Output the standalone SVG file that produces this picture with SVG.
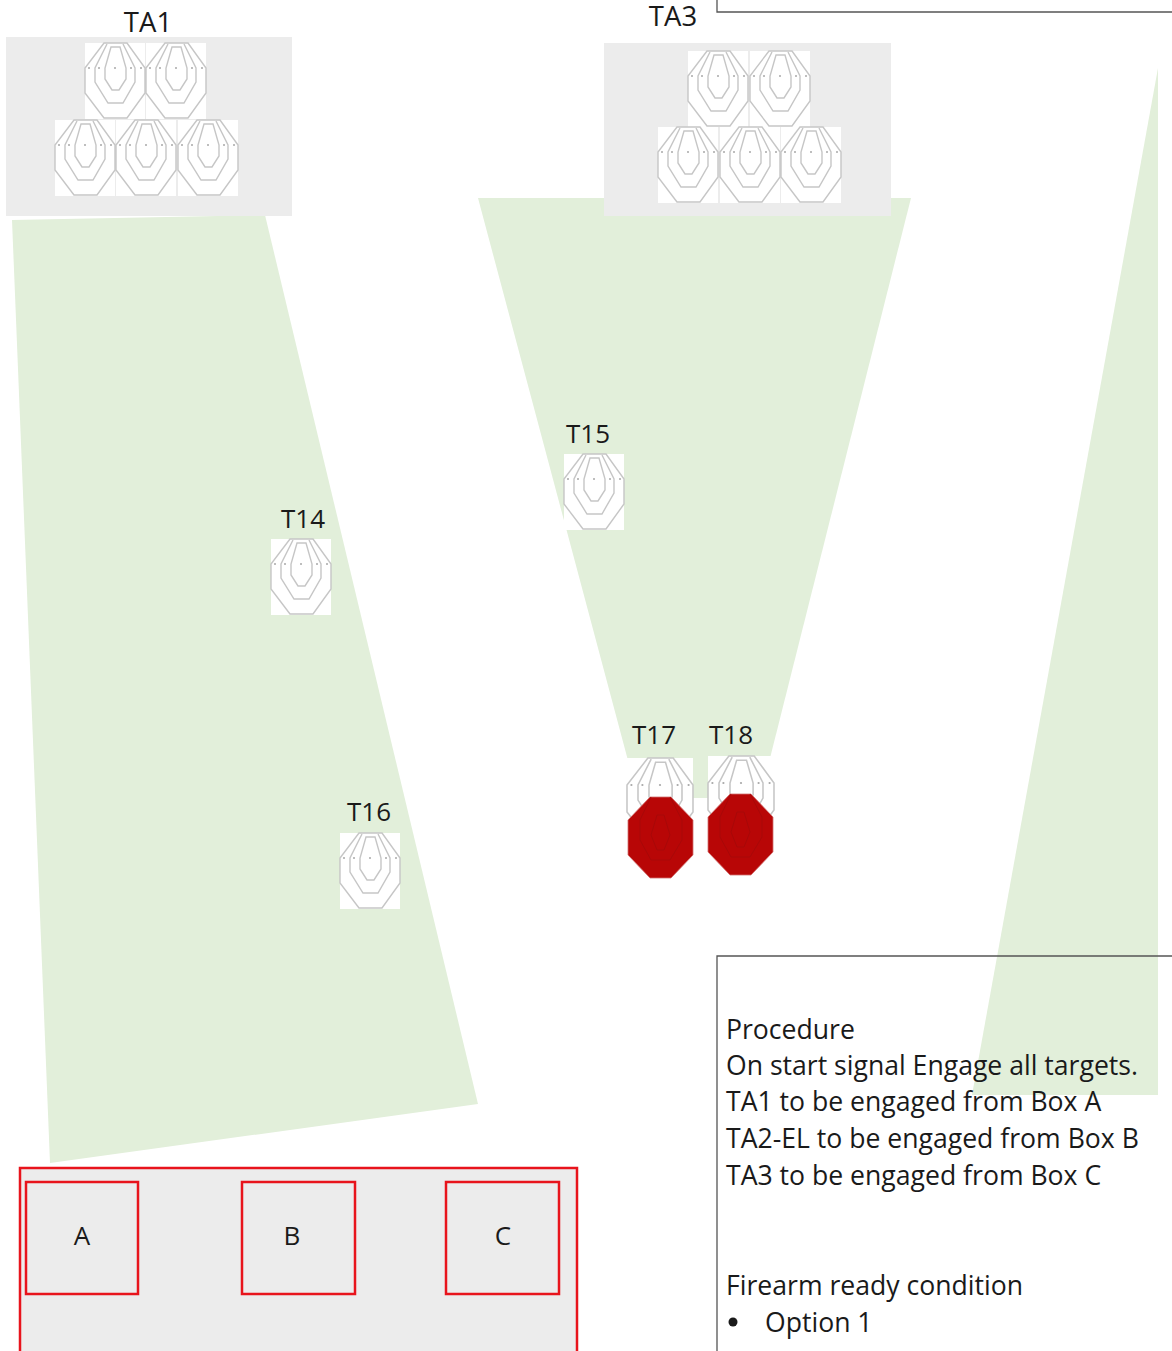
<svg xmlns="http://www.w3.org/2000/svg" width="1172" height="1351" viewBox="0 0 1172 1351">
<style>
text{font-family:"Open Sans","Noto Sans","Liberation Sans",sans-serif;fill:#1a1a1a}
.lab{font-size:26px;text-anchor:middle}
.lab2{font-size:27.5px;text-anchor:middle}
.proc{font-size:26.6px}
.zone{fill:#e2efda}
.gray{fill:#ececec}
.box{fill:none;stroke:#e8141c;stroke-width:2.5}
.panel{fill:none;stroke:#555;stroke-width:1.3}
.t{fill:none;stroke:#c6c6c6;stroke-width:1.4}
.dot{fill:#a8a8a8}
.red{fill:#b80606;stroke:#d07070;stroke-width:.8}
.redl{fill:none;stroke:#a80808;stroke-width:1}
</style>
<defs>
<g id="target">
<rect width="60" height="76" fill="#fff"/>
<path class="t" d="M19 0H42L60 25V50L42 75H19L0 50V25Z"/>
<path class="t" d="M22 1L10 25V39L23 60H38L50 39V25L38 1"/>
<path class="t" d="M26 4H35L41 25V36L34 47H27L20 36V25Z"/>
<g class="dot"><circle cx="4" cy="25" r="1"/><circle cx="14" cy="25" r="1"/><circle cx="30" cy="25" r="1"/><circle cx="46" cy="25" r="1"/><circle cx="56" cy="25" r="1"/></g>
</g>
</defs>
<g id="zones">
<polygon class="zone" points="12,220 265,215 478,1104 50,1163"/>
<polygon class="zone" points="478,198 911,198 760,798 638,798"/>
<polygon class="zone" points="1158,68 1158,1095 972,1095"/>
</g>
<g id="ta1">
<rect class="gray" x="6" y="37" width="286" height="179"/>
<use href="#target" x="85" y="43"/><use href="#target" x="146" y="43"/>
<use href="#target" x="55" y="120"/><use href="#target" x="116" y="120"/><use href="#target" x="178" y="120"/>
<text class="lab2" x="148" y="32">TA1</text>
</g>
<g id="ta3">
<rect class="gray" x="604" y="43" width="287" height="173"/>
<use href="#target" x="688" y="51"/><use href="#target" x="750" y="51"/>
<use href="#target" x="658" y="127"/><use href="#target" x="720" y="127"/><use href="#target" x="781" y="127"/>
<text class="lab2" x="673" y="26">TA3</text>
</g>
<g id="t14"><use href="#target" x="271" y="539"/><text class="lab" x="303" y="528">T14</text></g>
<g id="t15"><use href="#target" x="564" y="454"/><text class="lab" x="588" y="443">T15</text></g>
<g id="t16"><use href="#target" x="340" y="833"/><text class="lab" x="369" y="821">T16</text></g>
<g id="t17">
<use href="#target" transform="translate(627 758) scale(1.1 1.08)"/>
<polygon class="red" points="650,797 671,797 693,820 693,855 671,878 650,878 628,855 628,820"/>
<path class="redl" d="M651 797L640 820V840L651 860H670L682 840V820L670 797M657 815H664L670 835L664 850H657L651 835Z"/>
<text class="lab" x="654" y="744">T17</text>
</g>
<g id="t18">
<use href="#target" transform="translate(708 756) scale(1.1 1.08)"/>
<polygon class="red" points="730,794 751,794 773,817 773,852 751,875 730,875 708,852 708,817"/>
<path class="redl" d="M731 794L720 817V837L731 857H750L762 837V817L750 794M737 812H744L750 832L744 847H737L731 832Z"/>
<text class="lab" x="731" y="744">T18</text>
</g>
<g id="shooting-area">
<rect class="gray" x="20" y="1168" width="557" height="190" stroke="#e8141c" stroke-width="2.5"/>
</g>
<g id="box-a"><rect class="box" x="26" y="1182" width="112" height="112"/><text class="lab" x="82" y="1245">A</text></g>
<g id="box-b"><rect class="box" x="242" y="1182" width="113" height="112"/><text class="lab" x="292" y="1245">B</text></g>
<g id="box-c"><rect class="box" x="446" y="1182" width="113" height="112"/><text class="lab" x="503" y="1245">C</text></g>
<g id="panel-top"><path class="panel" d="M717 -2V12H1174"/></g>
<g id="panel-procedure">
<path class="panel" d="M717 1353V956H1174"/>
<text class="proc" x="726" y="1038.5">Procedure</text>
<text class="proc" x="726" y="1074.5">On start signal Engage all targets.</text>
<text class="proc" x="726" y="1110.5">TA1 to be engaged from Box A</text>
<text class="proc" x="726" y="1147.5">TA2-EL to be engaged from Box B</text>
<text class="proc" x="726" y="1184.5">TA3 to be engaged from Box C</text>
<text class="proc" x="726" y="1294.5">Firearm ready condition</text>
<circle cx="733" cy="1322" r="4.5" fill="#1a1a1a"/>
<text class="proc" x="765" y="1331.5">Option 1</text>
</g>
</svg>
